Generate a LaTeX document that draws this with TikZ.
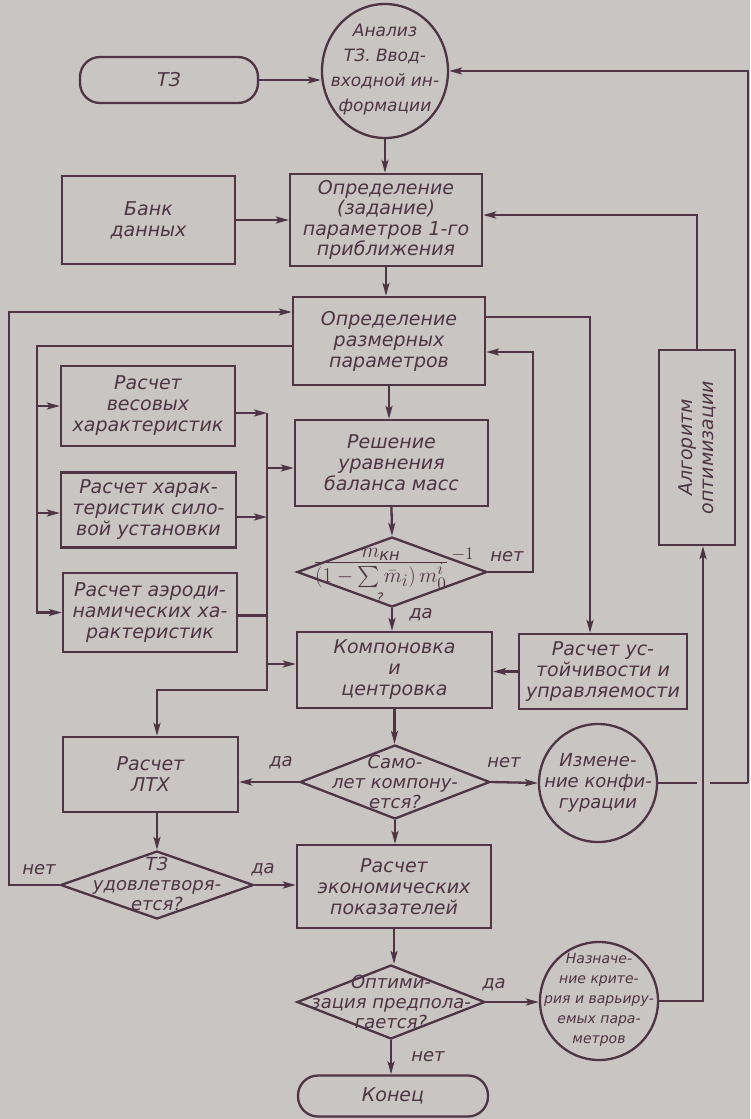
\documentclass[tikz,border=0pt]{standalone}
\usepackage{fontspec}
\usepackage{amsmath}
\setmainfont{DejaVu Sans}
\usetikzlibrary{arrows.meta,shapes.geometric,calc}
\definecolor{bg}{RGB}{200,197,194}
\definecolor{ink}{RGB}{78,52,68}
\begin{document}
\begin{tikzpicture}[x=1pt,y=-1pt,
  every node/.style={text=ink, font=\fontsize{19}{21}\selectfont\itshape, align=center},
  ln/.style={draw=ink, line width=2.3pt},
  arr/.style={ln, -{Stealth[length=13pt,width=7pt,inset=3pt]}},
  box/.style={draw=ink, line width=2.3pt, rectangle, inner sep=0pt},
  term/.style={box, rounded corners=20pt},
  dia/.style={draw=ink, line width=2.3pt, diamond, inner sep=0pt},
  circ/.style={draw=ink, line width=2.3pt, ellipse, inner sep=0pt},
  lbl/.style={font=\fontsize{18}{20}\selectfont\itshape},
  dtxt/.style={font=\fontsize{18}{20}\selectfont\itshape},
]
\fill[bg] (0,0) rectangle (750,1119);
\useasboundingbox (0,0) rectangle (750,1119);

% ---------- nodes ----------
\node[term, minimum width=178pt, minimum height=46pt] (t3) at (169,80) {ТЗ};
\node[circ, minimum width=126pt, minimum height=134pt] (an) at (385,71) {};
\node[font=\fontsize{17}{25}\selectfont\itshape] (ant) at (385,70) {Анализ\\ТЗ. Ввод-\\входной ин-\\формации};
\node[box, minimum width=173pt, minimum height=88pt] (bank) at (148.5,220) {Банк\\данных};
\node[box, minimum width=192pt, minimum height=92pt, font=\fontsize{19}{20.5}\selectfont\itshape] (opr1) at (386,220) {Определение\\(задание)\\параметров 1-го\\приближения};
\node[box, minimum width=192pt, minimum height=88pt] (opr2) at (389,341) {Определение\\размерных\\параметров};
\node[box, minimum width=174pt, minimum height=80pt] (ves) at (148,406) {Расчет\\весовых\\характеристик};
\node[box, minimum width=175pt, minimum height=75pt] (sil) at (148.5,510) {Расчет харак-\\теристик сило-\\вой установки};
\node[box, minimum width=174pt, minimum height=79pt] (aero) at (150,612.5) {Расчет аэроди-\\намических ха-\\рактеристик};
\node[box, minimum width=193pt, minimum height=86pt] (resh) at (391.5,463) {Решение\\уравнения\\баланса масс};
\node[dia, minimum width=190pt, minimum height=70pt] (d1) at (392,572) {};
\node (d1t) at (394,569) {\scalebox{1.22}{$\frac{\textstyle m_{\text{кн}}}{\textstyle (1-\sum\bar m_i)\,m_0^{i}}\,{}^{-1}$}};
\node[font=\fontsize{13}{13}\selectfont\itshape] (d1q) at (380,598) {?};
\node[box, minimum width=195pt, minimum height=76pt] (komp) at (394.5,670) {Компоновка\\и\\центровка};
\node[box, minimum width=168pt, minimum height=75pt] (ust) at (603,671.5) {Расчет ус-\\тойчивости и\\управляемости};
\node[box, minimum width=76pt, minimum height=195pt] (alg) at (697,447.5) {};
\node[rotate=90] (algt) at (alg) {Алгоритм\\оптимизации};
\node[box, minimum width=175pt, minimum height=75pt] (ltx) at (150.5,774.5) {Расчет\\ЛТХ};
\node[dia, minimum width=190pt, minimum height=74pt] (d2) at (395,782) {};
\node[dtxt] (d2t) at (395,782) {Само-\\лет компону-\\ется?};
\node[circ, minimum width=118pt, minimum height=118pt] (izm) at (598,783) {};
\node[font=\fontsize{18}{21}\selectfont\itshape] (izmt) at (598,783) {Измене-\\ние конфи-\\гурации};
\node[dia, minimum width=193pt, minimum height=68pt] (d4) at (157,885) {};
\node[dtxt] (d4t) at (157,884) {ТЗ\\удовлетворя-\\ется?};
\node[box, minimum width=194pt, minimum height=83pt] (econ) at (394,886.5) {Расчет\\экономических\\показателей};
\node[dia, minimum width=188pt, minimum height=74pt] (d3) at (391,1002) {};
\node[dtxt] (d3t) at (391,1002) {Оптими-\\зация предпола-\\гается?};
\node[circ, minimum width=118pt, minimum height=118pt] (nazn) at (599,1001) {};
\node[font=\fontsize{14}{20}\selectfont\itshape] (naznt) at (599,1000) {Назначе-\\ние крите-\\рия и варьиру-\\емых пара-\\метров};
\node[term, minimum width=190pt, minimum height=41pt] (end) at (393,1096) {Конец};

% labels
\node[lbl] (l1) at (507,557) {нет};
\node[lbl] (l2) at (421,615) {да};
\node[lbl] (l3) at (281,763) {да};
\node[lbl] (l4) at (504,763) {нет};
\node[lbl] (l5) at (263,870) {да};
\node[lbl] (l6) at (39,870) {нет};
\node[lbl] (l7) at (494,985) {да};
\node[lbl] (l8) at (428,1057) {нет};

% ---------- helper coordinates ----------
\coordinate (lx) at (9,0);
\coordinate (lx2) at (37,0);
\coordinate (cx) at (267,0);
\coordinate (nx) at (533,0);
\coordinate (rb) at (748,783);
\coordinate (g1) at (697,783);
\coordinate (g2) at (710,783);
\coordinate (cbot) at (267,690);
\coordinate (vo) at ($(ves.east)+(0,7)$);
\coordinate (so) at ($(sil.east)+(0,7)$);
\coordinate (ao) at ($(aero.east)+(0,3)$);
\coordinate (o2l) at ($(opr2.west)+(0,5)$);
\coordinate (o2in) at ($(opr2.west)+(0,-29)$);
\coordinate (o2r) at ($(opr2.east)+(0,-24)$);
\coordinate (o2rin) at ($(opr2.east)+(0,11)$);
\coordinate (ustin) at ($(ust.north)+(-13,0)$);
\coordinate (ltxin) at ($(ltx.north)+(6.5,0)$);
\coordinate (ltxout) at ($(ltx.south)+(6.5,0)$);
\coordinate (algin) at ($(alg.south)+(6,0)$);
\coordinate (o1in) at ($(opr1.east)+(0,-5)$);

% ---------- connectors ----------
\draw[arr] (t3.east) -- (t3.east -| an.west);
\draw[arr] (rb) |- (an.east);
\draw[arr] (an.south) -- (an.south |- opr1.north);
\draw[arr] (bank.east) -- (bank.east -| opr1.west);
\draw[arr] (opr1.south) -- (opr1.south |- opr2.north);
\draw[arr] (alg.north) |- (o1in);
% outer left loop
\draw[arr] (d4.west) -- (d4.west -| lx) |- (o2in);
% second loop to calculation boxes
\draw[arr] (o2l) -| (lx2 |- aero.west) -- (aero.west);
\draw[arr] (lx2 |- ves.west) -- (ves.west);
\draw[arr] ($(lx2 |- sil.west)+(0,3)$) -- ($(sil.west)+(0,3)$);
% collector
\draw[arr] (vo) -- (vo -| cx);
\draw[arr] (so) -- (so -| cx);
\draw[ln] (ao) -- (ao -| cx);
\draw[arr] (vo -| cx) -- (cbot) -| (ltxin);
\draw[arr] ($(cx |- resh.west)+(0,5)$) -- ($(resh.west)+(0,5)$);
\draw[arr] ($(cx |- komp.west)+(0,-6)$) -- ($(komp.west)+(0,-6)$);
% main column
\draw[arr] (opr2.south) -- (opr2.south |- resh.north);
\draw[arr] (resh.south) -- (d1.north);
\draw[arr] (d1.south) -- (d1.south |- komp.north);
\draw[arr] (d1.east) -- (d1.east -| nx) |- (o2rin);
\draw[arr] (o2r) -| (ustin);
\draw[arr] (ust.west) -- (ust.west -| komp.east);
\draw[arr] (komp.south) -- (komp.south |- d2.north);
\draw[arr] (d2.west) -- (d2.west -| ltx.east);
\draw[arr] (d2.east) -- (izm.west);
\draw[ln] (izm.east) -- (g1);
\draw[ln] (g2) -- (rb);
\draw[arr] (d2.south) -- (d2.south |- econ.north);
\draw[arr] (ltxout) -- (ltxout |- d4.north);
\draw[arr] (d4.east) -- (d4.east -| econ.west);
\draw[arr] (econ.south) -- (econ.south |- d3.north);
\draw[arr] (d3.east) -- (d3.east -| nazn.west);
\draw[arr] (nazn.east) -| (algin);
\draw[arr] (d3.south) -- (d3.south |- end.north);
\end{tikzpicture}
\end{document}
